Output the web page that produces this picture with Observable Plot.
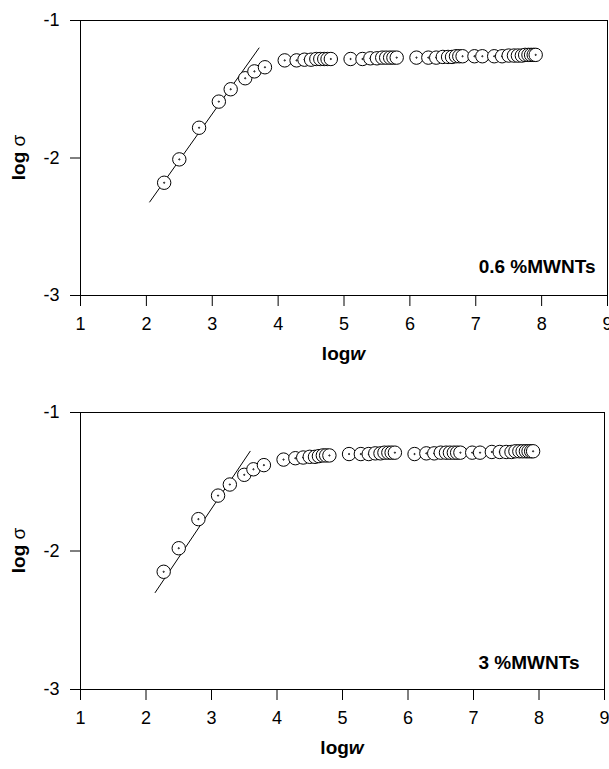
<!DOCTYPE html>
<html>
<head>
<meta charset="utf-8">
<script src="https://cdn.jsdelivr.net/npm/d3@7"></script>
<script src="https://cdn.jsdelivr.net/npm/@observablehq/plot@0.6"></script>
<style>
  html, body { margin: 0; padding: 0; background: #fff; }
  body { width: 609px; height: 769px; overflow: hidden; font-family: "Liberation Sans", Arial, sans-serif; }
  #chart svg { display: block; }
</style>
</head>
<body>
<div id="chart"></div>
<script>
// ---- data ----
const logw = [2.27, 2.50, 2.80, 3.10, 3.28, 3.50, 3.64, 3.80,
  4.10, 4.28, 4.40, 4.50, 4.58, 4.64, 4.70, 4.75, 4.80,
  5.10, 5.28, 5.40, 5.50, 5.58, 5.64, 5.70, 5.75, 5.80,
  6.10, 6.28, 6.40, 6.50, 6.58, 6.64, 6.70, 6.75, 6.80,
  6.98, 7.10, 7.28, 7.40, 7.50, 7.58, 7.64, 7.70, 7.75, 7.80, 7.84, 7.88, 7.91];

const logSigma06 = [-2.18, -2.01, -1.78, -1.59, -1.50, -1.42, -1.37, -1.34,
  -1.29, -1.29, -1.285, -1.285, -1.28, -1.28, -1.28, -1.28, -1.28,
  -1.28, -1.28, -1.275, -1.275, -1.27, -1.27, -1.27, -1.27, -1.27,
  -1.27, -1.27, -1.27, -1.265, -1.265, -1.265, -1.26, -1.26, -1.26,
  -1.26, -1.26, -1.26, -1.26, -1.255, -1.255, -1.255, -1.255, -1.25, -1.25, -1.25, -1.25, -1.25];

const logSigma3 = [-2.15, -1.98, -1.77, -1.60, -1.52, -1.45, -1.41, -1.38,
  -1.34, -1.33, -1.325, -1.32, -1.32, -1.315, -1.31, -1.31, -1.31,
  -1.30, -1.30, -1.30, -1.295, -1.295, -1.29, -1.29, -1.29, -1.29,
  -1.30, -1.295, -1.295, -1.29, -1.29, -1.29, -1.29, -1.29, -1.29,
  -1.29, -1.29, -1.285, -1.285, -1.285, -1.285, -1.28, -1.28, -1.28, -1.28, -1.28, -1.28, -1.28];

const fitLogw06 = [2.05, 3.71];
const fitLogSigma06 = [-2.32, -1.20];
const fitLogw3 = [2.14, 3.59];
const fitLogSigma3 = [-2.30, -1.28];

const xTicks = [1, 2, 3, 4, 5, 6, 7, 8, 9];
const yTicks = [-3, -2, -1];
const panelLabels = ["0.6 %MWNTs", "3 %MWNTs"];

// circle with a centre dot, drawn as one symbol so later points cover earlier ones
const ringDot = {
  draw(ctx, size) {
    const r = Math.sqrt(size / Math.PI);
    ctx.moveTo(r, 0);
    ctx.arc(0, 0, r, 0, 2 * Math.PI);
    ctx.moveTo(0.6, 0);
    ctx.arc(0, 0, 0.6, 0, 2 * Math.PI);
  }
};

const FONT = "'Liberation Sans', Arial, Helvetica, sans-serif";

function panel({ys, fx, fy, label, height, mt, mb, mr, ldx, ldy}) {
  const pts = logw.map((x, i) => ({x, y: ys[i]}));
  const fit = fx.map((x, i) => ({x, y: fy[i]}));
  const svg = Plot.plot({
    width: 609,
    height,
    marginTop: mt,
    marginBottom: mb,
    marginLeft: 80,
    marginRight: mr,
    style: {fontFamily: FONT, fontSize: "18px", color: "#000", background: "#fff", overflow: "visible"},
    x: {domain: [1, 9], ticks: xTicks, tickSize: 11, tickPadding: 11, label: null, tickFormat: d => String(d)},
    y: {domain: [-3, -1], ticks: yTicks, tickSize: 10, tickPadding: 11, label: null, tickFormat: d => String(d)},
    marks: [
      Plot.frame({stroke: "#000", strokeWidth: 1}),
      Plot.line(fit, {x: "x", y: "y", stroke: "#000", strokeWidth: 1}),
      Plot.dot(pts, {x: "x", y: "y", r: 6.7, symbol: ringDot, fill: "#fff", stroke: "#000", strokeWidth: 1}),
      Plot.text([label], {frameAnchor: "bottom-right", text: d => d, textAnchor: "end", lineAnchor: "bottom",
        dx: ldx, dy: ldy, fontWeight: "bold", fontSize: 19, fill: "#000"})
    ]
  });
  const s = d3.select(svg);
  const top = mt, bottom = height - mb, right = 609 - mr;
  // y axis label: bold "log" + sigma
  const yl = s.append("text")
    .attr("transform", `translate(25,${(top + bottom) / 2}) rotate(-90)`)
    .attr("text-anchor", "middle")
    .attr("font-size", 19)
    .attr("font-family", FONT)
    .attr("fill", "#000");
  yl.append("tspan").attr("font-weight", "bold").text("log ");
  yl.append("tspan").text("σ");
  // x axis label: bold "log" + bold italic "w"
  const xl = s.append("text")
    .attr("x", (80 + right) / 2)
    .attr("y", bottom + 65)
    .attr("text-anchor", "middle")
    .attr("font-size", 19)
    .attr("font-family", FONT)
    .attr("font-weight", "bold")
    .attr("fill", "#000");
  xl.append("tspan").text("log");
  xl.append("tspan").attr("font-style", "italic").text("w");
  return svg;
}

const chart = document.getElementById("chart");
chart.append(panel({ys: logSigma06, fx: fitLogw06, fy: fitLogSigma06, label: panelLabels[0],
  height: 390, mt: 20, mb: 95, mr: 2, ldx: -12, ldy: -23}));
chart.append(panel({ys: logSigma3, fx: fitLogw3, fy: fitLogSigma3, label: panelLabels[1],
  height: 379, mt: 22, mb: 80, mr: 5, ldx: -25, ldy: -21}));
</script>
</body>
</html>
